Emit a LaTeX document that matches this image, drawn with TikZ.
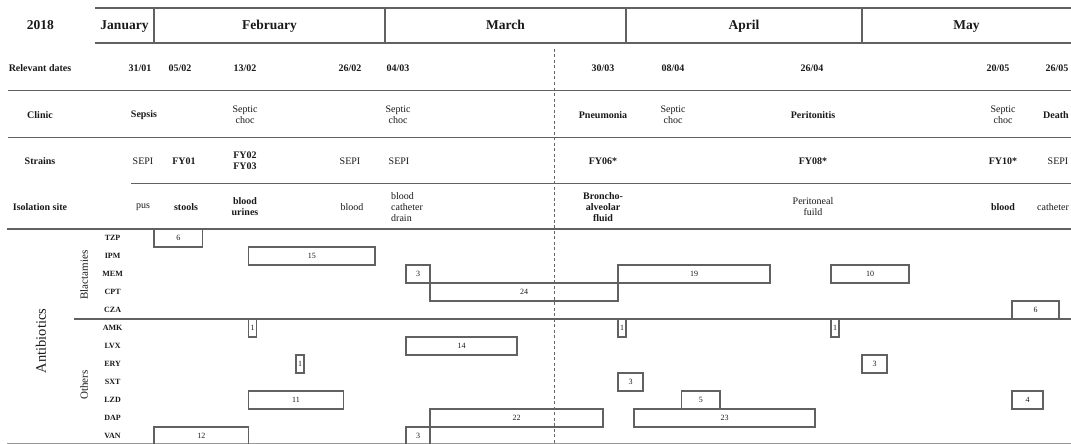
\documentclass[tikz,border=0pt]{standalone}
\usepackage{fontspec}
\setmainfont{Liberation Serif}
\begin{document}
\begin{tikzpicture}[x=1pt,y=-1pt,
  rule/.style={draw=black!62, line width=1.2pt},
  tx/.style={font=\fontsize{10}{11}\selectfont, text=black!90, inner sep=0pt, align=center},
  bx/.style={tx, font=\fontsize{10}{11}\selectfont\bfseries},
  mon/.style={font=\fontsize{13.5}{15}\selectfont\bfseries, text=black!90, inner sep=0pt, text height=9.5pt, text depth=2.5pt},
  drug/.style={font=\fontsize{8}{9}\selectfont\bfseries, text=black!90, inner sep=0pt},
  grp/.style={font=\fontsize{11}{12}\selectfont, text=black!90, inner sep=0pt, rotate=90},
  abx/.style={draw=black!62, line width=1.1pt, minimum height=18pt, inner sep=0pt, font=\fontsize{8}{9}\selectfont, text=black!90},
]
\useasboundingbox (0,0) rectangle (1071,444);

% ---------- month header ----------
\draw[rule] (95,8) -- (1071,8);
\draw[rule] (95,43) -- (1071,43);
\foreach \xx in {154,385,626,862} \draw[rule] (\xx,8) -- (\xx,43);
\node[mon] (year) at (40.5,26) {2018};
\node[mon] (jan) at (124.5,26) {January};
\node[mon] (feb) at (269.5,26) {February};
\node[mon] (mar) at (505.5,26) {March};
\node[mon] (apr) at (744,26) {April};
\node[mon] (may) at (966.5,26) {May};

% ---------- table rules ----------
\draw[rule] (8,90.5) -- (1071,90.5);
\draw[rule] (8,137.3) -- (1071,137.3);
\draw[rule] (131,183.3) -- (1071,183.3);
\draw[rule] (7,229) -- (1071,229);
\draw[rule] (74,319) -- (1071,319);
\draw[draw=black!40, line width=0.8pt] (7,443.6) -- (1071,443.6);

% ---------- row labels ----------
\node[bx] (lrd) at (40,68) {Relevant dates};
\node[bx] (lcl) at (40,115) {Clinic};
\node[bx] (lst) at (40,161) {Strains};
\node[bx] (lis) at (40,207) {Isolation site};

% ---------- relevant dates ----------
\node[bx] (d1) at (140,68) {31/01};
\node[bx] (d2) at (180,68) {05/02};
\node[bx] (d3) at (245,68) {13/02};
\node[bx] (d4) at (350,68) {26/02};
\node[bx] (d5) at (398,68) {04/03};
\node[bx] (d6) at (603,68) {30/03};
\node[bx] (d7) at (673,68) {08/04};
\node[bx] (d8) at (812,68) {26/04};
\node[bx] (d9) at (998,68) {20/05};
\node[bx] (d10) at (1057,68) {26/05};

% ---------- clinic ----------
\node[bx] (c1) at (144,115) {Sepsis};
\node[tx] (c2) at (245,115) {Septic\\choc};
\node[tx] (c3) at (398,115) {Septic\\choc};
\node[bx] (c4) at (603,115) {Pneumonia};
\node[tx] (c5) at (673,115) {Septic\\choc};
\node[bx] (c6) at (813,115) {Peritonitis};
\node[tx] (c7) at (1003,115) {Septic\\choc};
\node[bx] (c8) at (1056,115) {Death};

% ---------- strains ----------
\node[tx] (s1) at (143,161) {SEPI};
\node[bx] (s2) at (184,161) {FY01};
\node[bx] (s3) at (245,161) {FY02\\FY03};
\node[tx] (s4) at (350,161) {SEPI};
\node[tx] (s5) at (399,161) {SEPI};
\node[bx] (s6) at (603,161) {FY06*};
\node[bx] (s7) at (813,161) {FY08*};
\node[bx] (s8) at (1003,161) {FY10*};
\node[tx] (s9) at (1058,161) {SEPI};

% ---------- isolation site ----------
\node[tx] (i1) at (143,207) {pus};
\node[bx] (i2) at (186,207) {stools};
\node[bx] (i3) at (245,207) {blood\\urines};
\node[tx] (i4) at (352,207) {blood};
\node[tx, align=left, anchor=west] (i5) at (391,207) {blood\\catheter\\drain};
\node[bx] (i6) at (603,207) {Broncho-\\alveolar\\fluid};
\node[tx] (i7) at (813,207) {Peritoneal\\fuild};
\node[bx] (i8) at (1003,207) {blood};
\node[tx] (i9) at (1053,207) {catheter};

% ---------- antibiotics labels ----------
\node[font=\fontsize{14.5}{16}\selectfont, text=black!90, inner sep=0pt, rotate=90] (ab) at (41,341) {Antibiotics};
\node[grp] (gb) at (84,275) {Blactamies};
\node[grp] (go) at (84,385) {Others};
\foreach \nm [count=\i from 0] in {TZP,IPM,MEM,CPT,CZA,AMK,LVX,ERY,SXT,LZD,DAP,VAN}
  \node[drug] (r\nm) at (112.6,{238+18*\i}) {\nm};

% ---------- therapy bars ----------
\newcommand\abar[5]{%
  \pgfmathsetmacro\bw{#3-#2}%
  \pgfmathsetmacro\bxc{(#2+#3)/2}%
  \pgfmathsetmacro\byc{238+18*#4}%
  \node[abx, minimum width=\bw pt] (#1) at (\bxc,\byc) {#5};}
\abar{tzpA}{154}{202.5}{0}{6}
\abar{ipmA}{248.5}{375}{1}{15}
\abar{memA}{406}{430}{2}{3}
\abar{memB}{618}{770}{2}{19}
\abar{memC}{831}{909}{2}{10}
\abar{cptA}{430}{618}{3}{24}
\abar{czaA}{1012}{1059}{4}{6}
\abar{amkA}{248.5}{256.5}{5}{1}
\abar{amkB}{618}{626}{5}{1}
\abar{amkC}{831}{839}{5}{1}
\abar{lvxA}{406}{517}{6}{14}
\abar{eryA}{296}{304}{7}{1}
\abar{eryB}{862}{887}{7}{3}
\abar{sxtA}{618}{643}{8}{3}
\abar{lzdA}{248.5}{343.5}{9}{11}
\abar{lzdB}{681.5}{720}{9}{5}
\abar{lzdC}{1012}{1043}{9}{4}
\abar{dapA}{430}{603}{10}{22}
\abar{dapB}{634}{815}{10}{23}
\abar{vanA}{154}{248.5}{11}{12}
\abar{vanB}{406}{430}{11}{3}

% ---------- dashed marker ----------
\draw[draw=black!60, line width=0.6pt, dash pattern=on 3pt off 2.5pt] (554,49) -- (554,444);
\end{tikzpicture}
\end{document}
